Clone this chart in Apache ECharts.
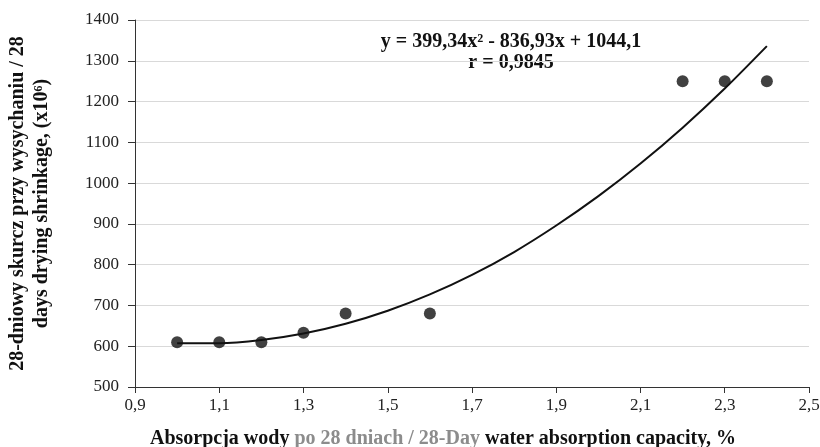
<!DOCTYPE html>
<html>
<head>
<meta charset="utf-8">
<script src="https://cdn.jsdelivr.net/npm/echarts@6/dist/echarts.min.js"></script>
<style>
  html, body { margin: 0; padding: 0; background: #fff; }
  #chart { width: 820px; height: 447px; }
</style>
</head>
<body>
<div id="chart"></div>
<script>
// measured points: water absorption (%) vs 28-day drying shrinkage
const absorption = [1.0, 1.1, 1.2, 1.3, 1.4, 1.6, 2.2, 2.3, 2.4]
const shrinkage = [610, 610, 610, 633, 680, 680, 1250, 1250, 1250]

// trend curve
const trendX = [1.0, 1.1, 1.2, 1.3, 1.4, 1.5, 1.6, 1.7, 1.8, 1.9, 2.0, 2.1, 2.2, 2.3, 2.4]
const trendY = [607, 607, 615, 631, 655, 687, 727, 775, 831, 896, 968, 1048, 1136, 1232, 1336]

const equationText = 'y = 399,34x² - 836,93x + 1044,1'
const rText = 'r = 0,9845'

const serif = '"Liberation Serif", "DejaVu Serif", serif'

var myChart = echarts.init(document.getElementById('chart'))

var option = {
  backgroundColor: '#fff',
  animation: false,
  grid: { left: 135, right: 11, top: 20, bottom: 60, outerBoundsMode: 'none', containLabel: false },
  xAxis: {
    type: 'value',
    min: 0.9,
    max: 2.5,
    interval: 0.2,
    name: '{b|Absorpcja wody }{g|po 28 dniach / 28-Day}{b| water absorption capacity, %}',
    nameLocation: 'middle',
    nameGap: 42,
    nameTextStyle: {
      padding: [0, 58, 0, 0],
      rich: {
        b: { fontFamily: serif, fontWeight: 'bold', fontSize: 20, color: '#111' },
        g: { fontFamily: serif, fontWeight: 'bold', fontSize: 20, color: '#8c8c8c' },
      },
    },
    axisLine: { show: true, lineStyle: { color: '#333', width: 1 } },
    axisTick: { show: true, inside: false, length: 6, lineStyle: { color: '#333' } },
    axisLabel: {
      margin: 10,
      fontFamily: serif,
      fontSize: 17,
      color: '#222',
      formatter: (v) => v.toFixed(1).replace('.', ','),
    },
    splitLine: { show: false },
  },
  yAxis: {
    type: 'value',
    min: 500,
    max: 1400,
    interval: 100,
    name: '28-dniowy skurcz przy wysychaniu / 28\ndays drying shrinkage, (x10⁶)',
    nameLocation: 'middle',
    nameGap: 81,
    nameTextStyle: {
      fontFamily: serif,
      fontWeight: 'bold',
      fontSize: 20,
      lineHeight: 24,
      color: '#111',
    },
    axisLine: { show: true, lineStyle: { color: '#333', width: 1 } },
    axisTick: { show: true, inside: false, length: 7, lineStyle: { color: '#333' } },
    axisLabel: {
      margin: 16,
      fontFamily: serif,
      fontSize: 17,
      color: '#222',
      formatter: (v) => String(v),
    },
    splitLine: { show: true, lineStyle: { color: '#d9d9d9', width: 1 } },
  },
  graphic: [
    {
      type: 'text',
      x: 511,
      y: 42,
      style: {
        text: equationText,
        align: 'center',
        verticalAlign: 'middle',
        font: 'bold 20px ' + serif,
        fill: '#111',
      },
    },
    {
      type: 'text',
      x: 511,
      y: 63,
      style: {
        text: rText,
        align: 'center',
        verticalAlign: 'middle',
        font: 'bold 20px ' + serif,
        fill: '#111',
      },
    },
  ],
  series: [
    {
      name: 'trend',
      type: 'line',
      data: trendX.map((x, i) => [x, trendY[i]]),
      smooth: 0.3,
      showSymbol: false,
      symbol: 'none',
      lineStyle: { color: '#111', width: 2 },
      z: 2,
    },
    {
      name: 'points',
      type: 'scatter',
      data: absorption.map((x, i) => [x, shrinkage[i]]),
      symbol: 'circle',
      symbolSize: 12,
      itemStyle: { color: '#111' },
      z: 3,
    },
  ],
}

myChart.setOption(option)
window.onresize = function () {
  myChart.resize()
}
</script>
</body>
</html>
